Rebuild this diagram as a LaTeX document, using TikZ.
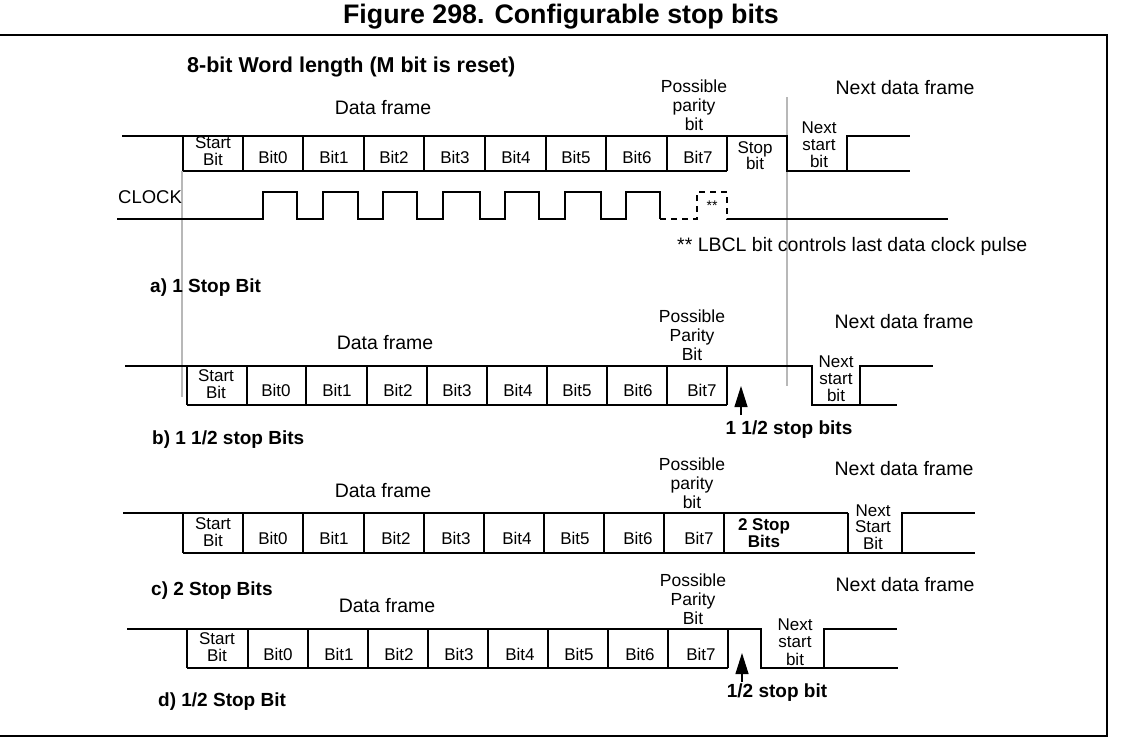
\documentclass[tikz,border=0pt]{standalone}
\usepackage{fontspec}
\setmainfont{Liberation Sans}
\usetikzlibrary{arrows.meta}
\tikzset{
  sig/.style={line width=1.2pt},
  guide/.style={draw=black!28, line width=1.6pt},
  lbl/.style={font=\fontsize{17}{16.5}\selectfont, inner sep=0pt, align=center},
  plbl/.style={font=\fontsize{17.5}{19}\selectfont, inner sep=0pt, align=center},
  hdr/.style={font=\fontsize{19.5}{20}\selectfont, inner sep=0pt},
  bld/.style={font=\bfseries\fontsize{19}{18}\selectfont, inner sep=0pt, align=center},
  marker/.style={line width=1.2pt, -{Triangle[width=13pt,length=21pt]}}
}
\begin{document}
\begin{tikzpicture}[x=1pt,y=-1pt]
\useasboundingbox (0,0) rectangle (1122,748);
% title and frame
\node[font=\bfseries\fontsize{26.8}{26}\selectfont, inner sep=0pt] (title) at (561,17) {Figure 298. Configurable stop bits};
\draw[line width=1.2pt] (0,35) -- (1107,35) -- (1107,736) -- (0,736);
\node[bld, font=\bfseries\fontsize{21.5}{20}\selectfont, anchor=west] (wl) at (187,67) {8-bit Word length (M bit is reset)};

% guide lines
\draw[guide] (182,171) -- (182,397);
\draw[guide] (787,97) -- (787,386);

% ---------------- row a
\draw[sig] (122,136) -- (787,136) -- (787,171) -- (910,171);
\draw[sig] (183,171) -- (727,171);
\draw[sig] (847,171) -- (847,136) -- (910,136);
\foreach \x in {183,243,303,364,424,485,546,606,667,727} \draw[sig] (\x,136) -- (\x,171);
\node[lbl] (aS) at (213,151) {Start\\Bit};
\foreach \x/\n in {273/0,334/1,394/2,455/3,516/4,576/5,637/6,698/7} \node[lbl] (a\n) at (\x,157) {Bit\n};
\node[lbl, font=\fontsize{17}{16}\selectfont] (aStop) at (755,156) {Stop\\bit};
\node[lbl, font=\fontsize{17}{17}\selectfont] (aNext) at (819,145) {Next\\start\\bit};
\node[plbl] (aPar) at (694,105) {Possible\\parity\\bit};
\node[hdr] (aDF) at (383,108) {Data frame};
\node[hdr] (aNDF) at (905,88) {Next data frame};
% clock
\node[hdr, font=\fontsize{18.5}{18}\selectfont, anchor=west] (clk) at (118,197) {CLOCK};
\draw[sig] (117,219) -- (263,219) -- (263,192) -- (297,192) -- (297,219)
  -- (323,219) -- (323,192) -- (358,192) -- (358,219)
  -- (383,219) -- (383,192) -- (417,192) -- (417,219)
  -- (443,219) -- (443,192) -- (480,192) -- (480,219)
  -- (505,219) -- (505,192) -- (539,192) -- (539,219)
  -- (565,219) -- (565,192) -- (601,192) -- (601,219)
  -- (626,219) -- (626,192) -- (660,192) -- (660,219);
\draw[sig, dashed, dash pattern=on 6pt off 5pt] (660,219) -- (697,219) -- (697,192) -- (727,192) -- (727,219) -- (733,219);
\draw[sig] (733,219) -- (948,219);
\node[inner sep=0pt, font=\fontsize{14}{14}\selectfont] (stars) at (712,206) {**};
\node[hdr, anchor=west] (lbcl) at (677,246) {** LBCL bit controls last data clock pulse};
\node[bld, anchor=west] (la) at (150,288) {a) 1 Stop Bit};

% ---------------- row b
\draw[sig] (125,366) -- (812,366) -- (812,405) -- (897,405);
\draw[sig] (187,405) -- (727,405);
\draw[sig] (860,405) -- (860,366) -- (933,366);
\foreach \x in {187,247,306,367,427,487,547,607,667,727} \draw[sig] (\x,366) -- (\x,405);
\node[lbl] (bS) at (216,384) {Start\\Bit};
\foreach \x/\n in {276/0,337/1,398/2,457/3,518/4,577/5,638/6,702/7} \node[lbl] (b\n) at (\x,390) {Bit\n};
\node[lbl, font=\fontsize{17}{17}\selectfont] (bNext) at (836,379) {Next\\start\\bit};
\node[plbl] (bPar) at (692,335) {Possible\\Parity\\Bit};
\node[hdr] (bDF) at (385,343) {Data frame};
\node[hdr] (bNDF) at (904,322) {Next data frame};
\coordinate (bArrFoot) at (741,415);
\coordinate (bArrTip) at (741,386);
\draw[marker] (bArrFoot) -- (bArrTip);
\node[bld] (bStop) at (789,430) {1 1/2 stop bits};
\node[bld, anchor=west] (lb) at (152,440) {b) 1 1/2 stop Bits};

% ---------------- row c
\draw[sig] (123,513) -- (848,513);
\draw[sig] (183,553) -- (902,553) -- (902,513) -- (975,513);
\draw[sig] (902,553) -- (975,553);
\foreach \x in {183,243,303,364,424,484,544,604,664,724,848} \draw[sig] (\x,513) -- (\x,553);
\node[lbl] (cS) at (213,532) {Start\\Bit};
\foreach \x/\n in {273/0,334/1,396/2,456/3,517/4,575/5,638/6,699/7} \node[lbl] (c\n) at (\x,538) {Bit\n};
\node[bld, font=\bfseries\fontsize{17}{17.5}\selectfont] (cStop) at (764,533) {2 Stop\\Bits};
\node[lbl, font=\fontsize{17}{16.5}\selectfont] (cNext) at (873,527) {Next\\Start\\Bit};
\node[plbl] (cPar) at (692,483) {Possible\\parity\\bit};
\node[hdr] (cDF) at (383,491) {Data frame};
\node[hdr] (cNDF) at (904,469) {Next data frame};
\node[bld, anchor=west] (lc) at (151,591) {c) 2 Stop Bits};

% ---------------- row d
\draw[sig] (127,629) -- (761,629) -- (761,668) -- (898,668);
\draw[sig] (187,668) -- (728,668);
\draw[sig] (824,668) -- (824,629) -- (897,629);
\foreach \x in {187,248,308,368,428,488,548,608,668,728} \draw[sig] (\x,629) -- (\x,668);
\node[lbl] (dS) at (217,647) {Start\\Bit};
\foreach \x/\n in {278/0,339/1,399/2,459/3,520/4,579/5,640/6,701/7} \node[lbl] (d\n) at (\x,654) {Bit\n};
\node[lbl, font=\fontsize{17}{17.5}\selectfont] (dNext) at (795,642) {Next\\start\\bit};
\node[plbl] (dPar) at (693,599) {Possible\\Parity\\Bit};
\node[hdr] (dDF) at (387,606) {Data frame};
\node[hdr] (dNDF) at (905,585) {Next data frame};
\coordinate (dArrFoot) at (742,682);
\coordinate (dArrTip) at (742,653);
\draw[marker] (dArrFoot) -- (dArrTip);
\node[bld] (dStop) at (777,693) {1/2 stop bit};
\node[bld, anchor=west] (ld) at (158,702) {d) 1/2 Stop Bit};
\end{tikzpicture}
\end{document}
